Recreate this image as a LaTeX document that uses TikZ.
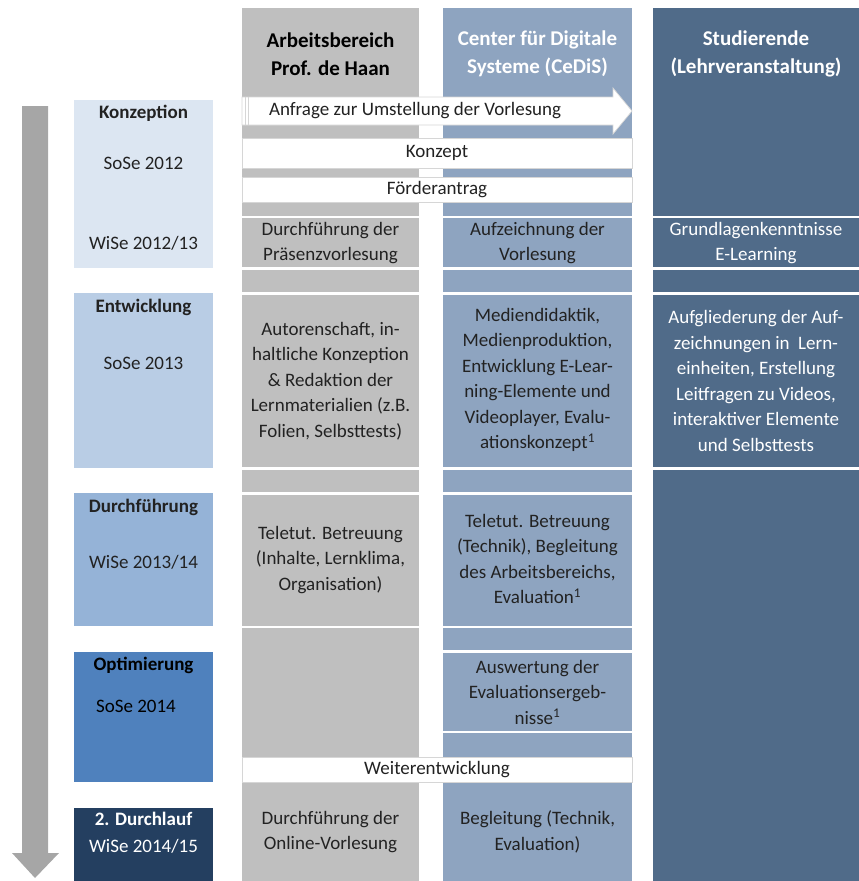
\documentclass[tikz,border=0pt]{standalone}
\usepackage{fontspec}
\setmainfont{Carlito}
\definecolor{colA}{HTML}{BFBFBF}
\definecolor{colB}{HTML}{8EA4C0}
\definecolor{colC}{HTML}{506B89}
\definecolor{phA}{HTML}{DCE6F2}
\definecolor{phB}{HTML}{B9CDE5}
\definecolor{phC}{HTML}{95B3D7}
\definecolor{phD}{HTML}{4F81BD}
\definecolor{phE}{HTML}{243F60}
\definecolor{arrowgray}{HTML}{A6A6A6}
\definecolor{txt}{HTML}{222222}
\definecolor{bandline}{HTML}{D6D6D6}
\newcommand\mynorm{\fontsize{19}{25.5}\selectfont}
\newcommand\myhead{\fontsize{21}{28}\selectfont\bfseries}
\newcommand\myphase{\fontsize{19}{25}\selectfont\bfseries}
\tikzset{
  txtnode/.style={inner sep=0pt, outer sep=0pt, align=center, text=txt, font=\mynorm},
  headnode/.style={inner sep=0pt, outer sep=0pt, align=center, font=\myhead},
  phaselabel/.style={inner sep=0pt, outer sep=0pt, align=center, text=txt, font=\myphase},
  phasebox/.style={inner sep=0pt, outer sep=0pt, draw=none, minimum width=139pt},
  colbox/.style={inner sep=0pt, outer sep=0pt, draw=none, anchor=north west},
  whiteband/.style={inner sep=0pt, outer sep=0pt, fill=white, draw=bandline, line width=0.7pt, minimum width=390pt, text=txt, font=\mynorm},
  sepline/.style={fill=white}
}
\begin{document}
\begin{tikzpicture}[x=1pt,y=-1pt]
\useasboundingbox (0,0) rectangle (859,881);
% columns
\node[colbox, fill=colA, minimum width=177pt, minimum height=873pt] (colA) at (242,8) {};
\node[colbox, fill=colB, minimum width=189pt, minimum height=873pt] (colB) at (443,8) {};
\node[colbox, fill=colC, minimum width=206pt, minimum height=873pt] (colC) at (653,8) {};
% separator lines
\foreach \a/\b in {215.5/218,267/269.5,292.2/294.7,467/469.5,492/494.5,625.5/628}{
  \fill[sepline] (242,\a) rectangle (419,\b);
  \fill[sepline] (443,\a) rectangle (632,\b);
}
\foreach \a/\b in {650/652.5,730.5/733}{
  \fill[sepline] (443,\a) rectangle (632,\b);
}
\foreach \a/\b in {215.5/218,267/269.5,292.2/294.7,467/469.5}{
  \fill[sepline] (653,\a) rectangle (859,\b);
}
% white bands
\node[whiteband, minimum height=30pt] (konzept) at (437,153) {Konzept};
\node[whiteband, minimum height=25pt] (foerder) at (437,189.5) {Förderantrag};
\node[whiteband, minimum height=25pt] (weiter) at (437,769.5) {Weiterentwicklung};
% request arrow
\filldraw[fill=white, draw=bandline, line width=0.7pt] (242,97) -- (613,97) -- (613,88) -- (632,111) -- (613,134) -- (613,125) -- (242,125) -- cycle;
\draw[bandline, line width=0.8pt] (245.5,97) -- (245.5,125);
\draw[bandline, line width=0.8pt] (248.5,97) -- (248.5,125);
\node[txtnode, anchor=west] (anfrage) at (269,111) {Anfrage zur Umstellung der Vorlesung};
% headers
\node[headnode, text=black] (hA) at (330.5,54) {Arbeitsbereich\\Prof. de Haan};
\node[headnode, text=white] (hB) at (537.5,54) {Center für Digitale\\Systeme (CeDiS)};
\node[headnode, text=white] (hC) at (756,54) {Studierende\\(Lehrveranstaltung)};
% column A texts
\node[txtnode] (a1) at (330.5,243) {Durchführung der\\Präsenzvorlesung};
\node[txtnode] (a2) at (330.5,381) {Autorenschaft, in-\\haltliche Konzeption\\\& Redaktion der\\Lernmaterialien (z.B.\\Folien, Selbsttests)};
\node[txtnode] (a3) at (330.5,560) {Teletut. Betreuung\\(Inhalte, Lernklima,\\Organisation)};
\node[txtnode] (a4) at (330.5,832) {Durchführung der\\Online-Vorlesung};
% column B texts
\node[txtnode] (b1) at (537.5,243) {Aufzeichnung der\\Vorlesung};
\node[txtnode] (b2) at (537.5,380) {Mediendidaktik,\\Medienproduktion,\\Entwicklung E-Lear-\\ning-Elemente und\\Videoplayer, Evalu-\\ationskonzept\textsuperscript{1}};
\node[txtnode] (b3) at (537.5,559) {Teletut. Betreuung\\(Technik), Begleitung\\des Arbeitsbereichs,\\Evaluation\textsuperscript{1}};
\node[txtnode] (b4) at (537.5,692) {Auswertung der\\Evaluationsergeb-\\nisse\textsuperscript{1}};
\node[txtnode] (b5) at (537.5,832) {Begleitung (Technik,\\Evaluation)};
% column C texts
\node[txtnode, text=white] (c1) at (756,243) {Grundlagenkenntnisse\\E-Learning};
\node[txtnode, text=white] (c2) at (756,381) {Aufgliederung der Auf-\\zeichnungen in\ \ Lern-\\einheiten, Erstellung\\Leitfragen zu Videos,\\interaktiver Elemente\\und Selbsttests};
% timeline arrow
\fill[arrowgray] (22,106) -- (48,106) -- (48,853) -- (59,853) -- (35,878) -- (12,853) -- (22,853) -- cycle;
% phase boxes
\node[phasebox, fill=phA, minimum height=168pt] (p1) at (143.5,184) {};
\node[phasebox, fill=phB, minimum height=175pt] (p2) at (143.5,380.5) {};
\node[phasebox, fill=phC, minimum height=133pt] (p3) at (143.5,559.5) {};
\node[phasebox, fill=phD, minimum height=130pt] (p4) at (143.5,717) {};
\node[phasebox, fill=phE, minimum height=73pt] (p5) at (143.5,844.5) {};
\node[phaselabel] (p1a) at (143.5,113) {Konzeption};
\node[txtnode] (p1b) at (143.5,163) {SoSe 2012};
\node[txtnode] (p1c) at (143.5,243) {WiSe 2012/13};
\node[phaselabel] (p2a) at (143.5,307) {Entwicklung};
\node[txtnode] (p2b) at (143.5,363) {SoSe 2013};
\node[phaselabel] (p3a) at (143.5,507) {Durchführung};
\node[txtnode] (p3b) at (143.5,562) {WiSe 2013/14};
\node[phaselabel, text=black] (p4a) at (143.5,665) {Optimierung};
\node[txtnode, text=black] (p4b) at (136,706) {SoSe 2014};
\node[phaselabel, text=white] (p5a) at (143.5,819) {2. Durchlauf};
\node[txtnode, text=white] (p5b) at (143.5,846) {WiSe 2014/15};
\end{tikzpicture}
\end{document}
